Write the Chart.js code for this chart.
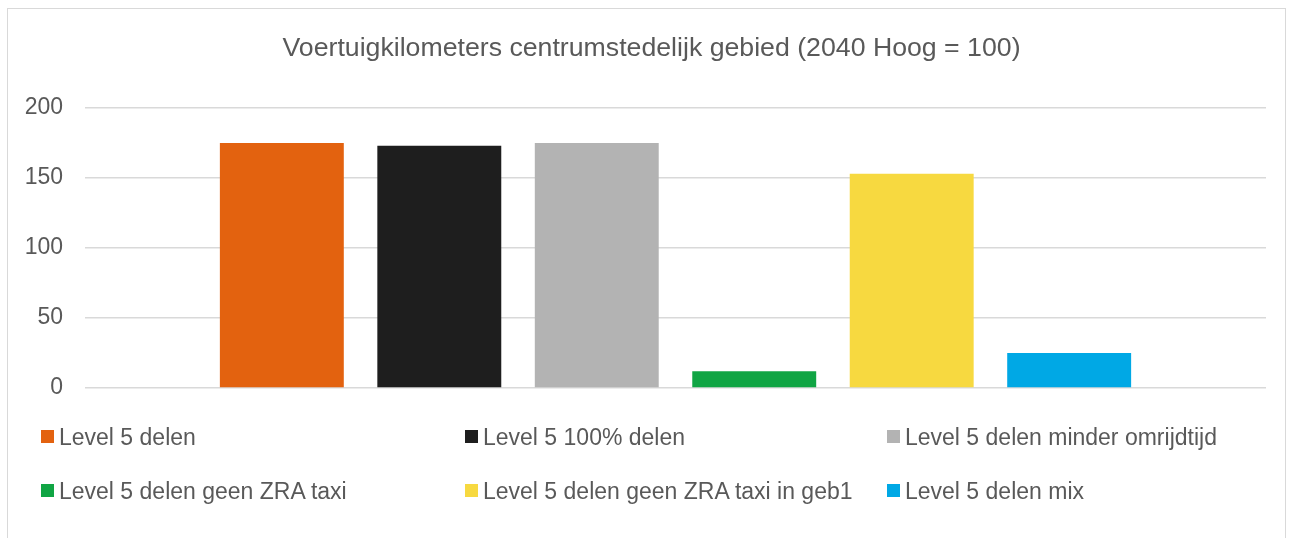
<!DOCTYPE html>
<html>
<head>
<meta charset="utf-8">
<script src="https://cdn.jsdelivr.net/npm/chart.js@4.4.1/dist/chart.umd.min.js"></script>
<style>
  html, body { margin: 0; padding: 0; background: #ffffff; }
  #wrap { position: relative; width: 1296px; height: 538px; overflow: hidden; background: #fff; }
  #frame { position: absolute; left: 7px; top: 8px; width: 1279px; height: 560px; border: 1px solid #d9d9d9; box-sizing: border-box; }
  #c { position: absolute; left: 0; top: 0; }
  .lg { position: absolute; font-family: "Liberation Sans", Arial, sans-serif; font-size: 23px; color: #595959; white-space: nowrap; line-height: 26px; }
  .lg .box { position: absolute; left: 0; top: 6px; width: 13px; height: 13px; }
  .lg .txt { position: absolute; left: 18px; top: 0; }
</style>
</head>
<body>
<div id="wrap">
  <div id="frame"></div>
  <canvas id="c" width="1296" height="538"></canvas>
  <div id="legend"></div>
</div>
<script>
const titleText = "Voertuigkilometers centrumstedelijk gebied (2040 Hoog = 100)";
const categories = [""];
const seriesNames = [
  "Level 5 delen",
  "Level 5 100% delen",
  "Level 5 delen minder omrijdtijd",
  "Level 5 delen geen ZRA taxi",
  "Level 5 delen geen ZRA taxi in geb1",
  "Level 5 delen mix"
];
const seriesValues = [175, 173, 175, 12, 153, 25];
const seriesColors = ["#E3620F", "#1E1E1E", "#B3B3B3", "#10A544", "#F7D940", "#00A8E5"];
const yTicks = [0, 50, 100, 150, 200];

const datasets = seriesNames.map((name, i) => ({
  label: name,
  data: [seriesValues[i]],
  backgroundColor: seriesColors[i],
  borderWidth: 0,
  categoryPercentage: 0.8,
  barPercentage: 0.787
}));

// Shift the title's centring box so it is centred like the original
const titleShift = {
  id: 'titleShift',
  afterLayout(chart) {
    const t = chart.titleBlock;
    if (t) {
      t.left = 37;
      t.right = chart.chartArea.right;
      t.width = t.right - t.left;
    }
  }
};

const chart = new Chart(document.getElementById('c'), {
  type: 'bar',
  data: { labels: categories, datasets: datasets },
  plugins: [titleShift],
  options: {
    responsive: false,
    animation: false,
    devicePixelRatio: 1,
    layout: { padding: { left: 0, right: 30, top: 0, bottom: 150 } },
    plugins: {
      legend: { display: false },
      tooltip: { enabled: false },
      title: {
        display: true,
        text: titleText,
        color: '#595959',
        font: { family: '"Liberation Sans", Arial, sans-serif', size: 26.7, weight: 'normal', lineHeight: 1.2 },
        padding: { top: 33, bottom: 43 }
      }
    },
    scales: {
      x: { display: false },
      y: {
        min: 0, max: 200,
        afterBuildTicks: (scale) => { scale.ticks = yTicks.map(v => ({ value: v })); },
        afterFit: (scale) => { scale.width = 85; },
        border: { display: false },
        grid: { color: '#d9d9d9', lineWidth: 1.5, drawTicks: false },
        ticks: {
          color: '#595959',
          padding: 22,
          font: { family: '"Liberation Sans", Arial, sans-serif', size: 23 }
        }
      }
    }
  }
});

// HTML legend in a 3-column grid, built from the chart's datasets
const legendPos = [
  [41, 424], [465, 424], [887, 424],
  [41, 478], [465, 478], [887, 478]
];
const legendEl = document.getElementById('legend');
chart.data.datasets.forEach((ds, i) => {
  const item = document.createElement('div');
  item.className = 'lg';
  item.style.left = legendPos[i][0] + 'px';
  item.style.top = legendPos[i][1] + 'px';
  const box = document.createElement('span');
  box.className = 'box';
  box.style.background = ds.backgroundColor;
  const txt = document.createElement('span');
  txt.className = 'txt';
  txt.textContent = ds.label;
  item.appendChild(box);
  item.appendChild(txt);
  legendEl.appendChild(item);
});
</script>
</body>
</html>
